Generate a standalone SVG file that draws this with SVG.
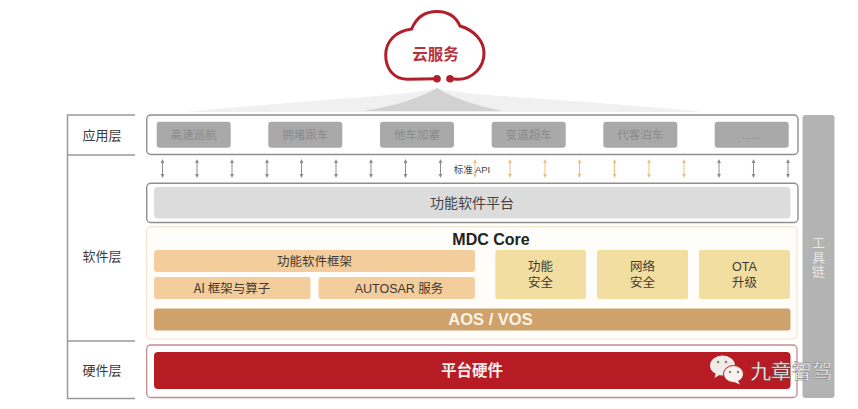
<svg xmlns="http://www.w3.org/2000/svg" width="858" height="409" viewBox="0 0 858 409">
<defs>
<marker id="ag" markerWidth="5" markerHeight="5" refX="2.5" refY="2.5" orient="auto-start-reverse" markerUnits="userSpaceOnUse"><path d="M0.6 4.4L2.5 0.6L4.4 4.4Z" transform="rotate(90 2.5 2.5)" fill="#8c8c8c"/></marker>
<marker id="ao" markerWidth="5" markerHeight="5" refX="2.5" refY="2.5" orient="auto-start-reverse" markerUnits="userSpaceOnUse"><path d="M0.6 4.4L2.5 0.6L4.4 4.4Z" transform="rotate(90 2.5 2.5)" fill="#e8c083"/></marker>
</defs>
<style>
text{font-family:"Noto Sans CJK SC","Liberation Sans",sans-serif;text-anchor:middle}
.lat{font-family:"Liberation Sans","Noto Sans CJK SC",sans-serif}
.layer{font-size:13px;fill:#3a3a3a}
.frame{fill:none;stroke:#9a9a9a;stroke-width:1.5}
.chip{fill:#a9a9a9}
.chipt{font-size:11.5px;fill:#8a8a8a}
.box{fill:#fff;stroke:#8f8f8f;stroke-width:1.4}
.peach{fill:#f3cd9b}
.yel{fill:#f2dea0}
.pt{font-size:12.5px;fill:#3f3a34}
.ag{stroke:#8c8c8c;stroke-width:1;fill:none;marker-start:url(#ag);marker-end:url(#ag)}
.ao{stroke:#e8c083;stroke-width:1;fill:none;marker-start:url(#ao);marker-end:url(#ao)}
</style>
<rect width="858" height="409" fill="#fff"/>
<g id="cloud-shade">
<path d="M437 88C405 97 300 100 187 112L703 112C590 100 470 97 437 88Z" fill="#f0f0f0"/>
<path d="M437 88C420 98 395 106 363 111L503 111C478 106 452 98 437 88Z" fill="#d2d2d2"/>
</g>
<g id="cloud">
<path d="M437 78.7L407 79.3C393 79 385.7 68 385.7 55C385.7 41 396 31 411.7 29C416 18 425 11.5 437 11.5C448 11.5 456 17 460 26C474 30 484 41 484 53C484 68 472 79.3 458 79.3L450 78.7" fill="none" stroke="#b21f2a" stroke-width="3"/>
<circle cx="437" cy="78.7" r="3.8" fill="#b21f2a"/>
<circle cx="450" cy="78.7" r="3.8" fill="#b21f2a"/>
<text x="435.5" y="60" font-size="15.5" font-weight="700" fill="#b8323c">云服务</text>
</g>
<g id="layers">
<path class="frame" d="M135 115H67.5V398.5H135M67.5 155H135M67.5 341H135"/>
<text class="layer" x="102" y="140">应用层</text>
<text class="layer" x="102" y="261">软件层</text>
<text class="layer" x="102" y="375">硬件层</text>
</g>
<g id="app-layer">
<rect class="box" x="146.7" y="115" width="651.3" height="39.5" rx="4"/>
<rect class="chip" x="156.7" y="121.7" width="74" height="26" rx="3"/><text class="chipt" x="193.7" y="139">高速巡航</text>
<rect class="chip" x="268.3" y="121.7" width="74" height="26" rx="3"/><text class="chipt" x="305.3" y="139">拥堵跟车</text>
<rect class="chip" x="380" y="121.7" width="74" height="26" rx="3"/><text class="chipt" x="417" y="139">他车加塞</text>
<rect class="chip" x="491.7" y="121.7" width="74" height="26" rx="3"/><text class="chipt" x="528.7" y="139">变道超车</text>
<rect class="chip" x="603.3" y="121.7" width="74" height="26" rx="3"/><text class="chipt" x="640.3" y="139">代客泊车</text>
<rect class="chip" x="714.7" y="121.7" width="74" height="26" rx="3"/><text class="chipt lat" x="751.7" y="139">......</text>
</g>
<g id="connectors">
<path class="ag" d="M162.5 161V176"/><path class="ag" d="M197 161V176"/><path class="ag" d="M232 161V176"/><path class="ag" d="M267 161V176"/><path class="ag" d="M301.5 161V176"/><path class="ag" d="M336 161V176"/><path class="ag" d="M371 161V176"/><path class="ag" d="M405.5 161V176"/><path class="ag" d="M440.5 161V176"/>
<path class="ao" d="M475 161V176"/><path class="ao" d="M510 161V176"/><path class="ao" d="M545 161V176"/><path class="ao" d="M579.5 161V176"/><path class="ao" d="M614.5 161V176"/><path class="ao" d="M649 161V176"/><path class="ao" d="M684 161V176"/>
<path class="ag" d="M719 161V176"/><path class="ag" d="M753.5 161V176"/><path class="ag" d="M788 161V176"/>
</g>
<g id="api-label">
<text x="472" y="173" font-size="9.5" fill="#444"><tspan>标准 </tspan><tspan class="lat">API</tspan></text>
</g>
<g id="platform">
<rect class="box" x="146.7" y="183.3" width="651.3" height="39.2" rx="4"/>
<rect x="154" y="187" width="636.5" height="31.5" rx="4" fill="#dcdcdc"/>
<text x="472" y="208" font-size="14" fill="#444">功能软件平台</text>
</g>
<g id="mdc-core">
<rect x="146.7" y="226.7" width="650.3" height="112.3" rx="4" fill="#fffdf9" stroke="#f3e6cf" stroke-width="1.2"/>
<text class="lat" x="491" y="244.5" font-size="16" font-weight="700" fill="#222">MDC Core</text>
<rect class="peach" x="154" y="250" width="321" height="22" rx="3"/><text class="pt" x="314.5" y="265.5">功能软件框架</text>
<rect class="peach" x="154" y="277" width="156.5" height="22" rx="3"/><text class="pt" x="232" y="292.5">AI 框架与算子</text>
<rect class="peach" x="318.5" y="277" width="156.5" height="22" rx="3"/><text class="pt lat" x="399" y="292.5">AUTOSAR 服务</text>
<rect class="yel" x="495.3" y="250" width="90.7" height="49" rx="2"/><text class="pt lat" x="540.5" y="271"><tspan x="540.5">功能</tspan><tspan x="540.5" dy="15.5">安全</tspan></text>
<rect class="yel" x="597" y="250" width="91" height="49" rx="2"/><text class="pt lat" x="642.5" y="271"><tspan x="642.5">网络</tspan><tspan x="642.5" dy="15.5">安全</tspan></text>
<rect class="yel" x="699" y="250" width="91" height="49" rx="2"/><text class="pt lat" x="744.5" y="271"><tspan x="744.5">OTA</tspan><tspan x="744.5" dy="15.5">升级</tspan></text>
<rect x="154" y="308.5" width="636.5" height="22" rx="3" fill="#cfa26c"/>
<text class="lat" x="490.5" y="325" font-size="16.5" font-weight="700" fill="#fbf3e6">AOS / VOS</text>
</g>
<g id="hardware">
<rect x="146.7" y="345" width="650.3" height="52.5" rx="4" fill="#fff" stroke="#c58a90" stroke-width="1.3"/>
<rect x="154" y="352" width="636.5" height="37" rx="4" fill="#b71c24"/>
<text x="472" y="375.5" font-size="15.5" font-weight="700" fill="#f8ecec">平台硬件</text>
</g>
<g id="toolchain">
<rect x="802.5" y="115" width="32" height="283" rx="3" fill="#b3b3b3"/>
<text x="818.5" y="236" font-size="13" letter-spacing="1.5" fill="#e6e6e6" style="writing-mode:vertical-rl;text-anchor:start">工具链</text>
</g>
<g id="watermark">
<ellipse cx="722.5" cy="365.5" rx="12.5" ry="10" fill="#f1ebe8"/>
<path d="M716 372L714.5 378L721 374Z" fill="#f1ebe8"/>
<ellipse cx="733.5" cy="374" rx="10" ry="8.5" fill="#f7f2f0" stroke="#b71c24" stroke-width="1"/>
<path d="M738 381L740 384.5L733 381.5Z" fill="#f7f2f0"/>
<circle cx="718" cy="362" r="1.3" fill="#8a7d78"/><circle cx="726" cy="362" r="1.3" fill="#8a7d78"/>
<circle cx="730" cy="372" r="1.2" fill="#8a7d78"/><circle cx="738" cy="372" r="1.2" fill="#8a7d78"/>
<text x="791.5" y="379" font-size="20.5" fill="#fafafa" stroke="#555" stroke-width="0.3">九章智驾</text>
</g>
</svg>
